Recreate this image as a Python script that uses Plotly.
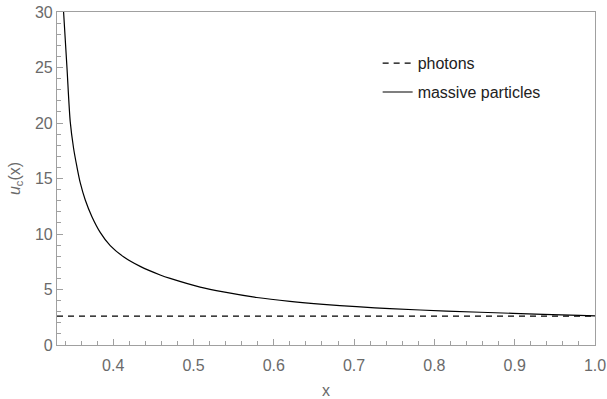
import plotly.graph_objects as go

# Critical value u_c(x) for massive particles, sampled along the curve
x_massive = [0.3382, 0.3424, 0.3465, 0.3506, 0.3548, 0.3590, 0.3652, 0.3735,
             0.3838, 0.3963, 0.4128, 0.4336, 0.4585, 0.4709, 0.5082, 0.5372,
             0.5787, 0.6201, 0.6616, 0.7031, 0.7445, 0.8150, 0.8979, 0.9808,
             1.0]
u_massive = [30.0, 25.0, 20.1, 17.75, 16.06, 14.6, 13.06, 11.56,
             10.15, 8.95, 7.95, 7.08, 6.31, 6.00, 5.22, 4.78,
             4.28, 3.93, 3.66, 3.45, 3.27, 3.06, 2.85, 2.66,
             2.62]

# Photons: constant value across the range
x_photons = [0.33, 1.0]
u_photons = [2.6, 2.6]

x_ticks = [0.4, 0.5, 0.6, 0.7, 0.8, 0.9, 1.0]
y_ticks = [0, 5, 10, 15, 20, 25, 30]

axis_grey = "#a0a0a0"
label_grey = "#6a6a6a"
font_family = "Liberation Sans, Arial, sans-serif"

fig = go.Figure()
fig.add_trace(go.Scatter(
    x=x_photons, y=u_photons, mode="lines", name="photons",
    line=dict(color="black", width=1.2, dash="6px,5px"),
    legendgroup="a",
))
fig.add_trace(go.Scatter(
    x=x_massive, y=u_massive, mode="lines", name="massive particles",
    line=dict(color="black", width=1.2, shape="spline", smoothing=0.8),
    legendgroup="b",
))

axis_common = dict(
    showline=True, linecolor=axis_grey, linewidth=1.2, mirror=True,
    showgrid=False, zeroline=False, automargin=False,
    ticks="inside", ticklen=6, tickcolor=axis_grey, tickwidth=1,
    tickfont=dict(family=font_family, size=16, color=label_grey),
)

fig.update_xaxes(
    range=[0.33, 1.0], tickvals=x_ticks, tickformat=".1f",
    ticklabelstandoff=6,
    minor=dict(dtick=0.02, tick0=0, ticks="inside", ticklen=3.5,
               tickcolor=axis_grey, tickwidth=1),
    title=dict(text="x", font=dict(family=font_family, size=16, color=label_grey),
               standoff=12),
    **axis_common,
)
fig.update_yaxes(
    range=[0, 30], tickvals=y_ticks,
    minor=dict(dtick=1, tick0=0, ticks="inside", ticklen=3.5,
               tickcolor=axis_grey, tickwidth=1),
    title=dict(text="<i>u</i><sub>c</sub>(x)",
               font=dict(family=font_family, size=16, color=label_grey),
               standoff=10),
    **axis_common,
)

fig.update_layout(
    width=607, height=399,
    margin=dict(l=57, r=12, t=12, b=54),
    paper_bgcolor="white", plot_bgcolor="white",
    font=dict(family=font_family, size=16, color="#222222"),
    legend=dict(
        x=0.596, y=0.897, xanchor="left", yanchor="top",
        bgcolor="rgba(0,0,0,0)", traceorder="grouped", tracegroupgap=5,
        font=dict(family=font_family, size=16, color="#222222"),
        itemwidth=30,
    ),
)

fig.write_html("out.html")
